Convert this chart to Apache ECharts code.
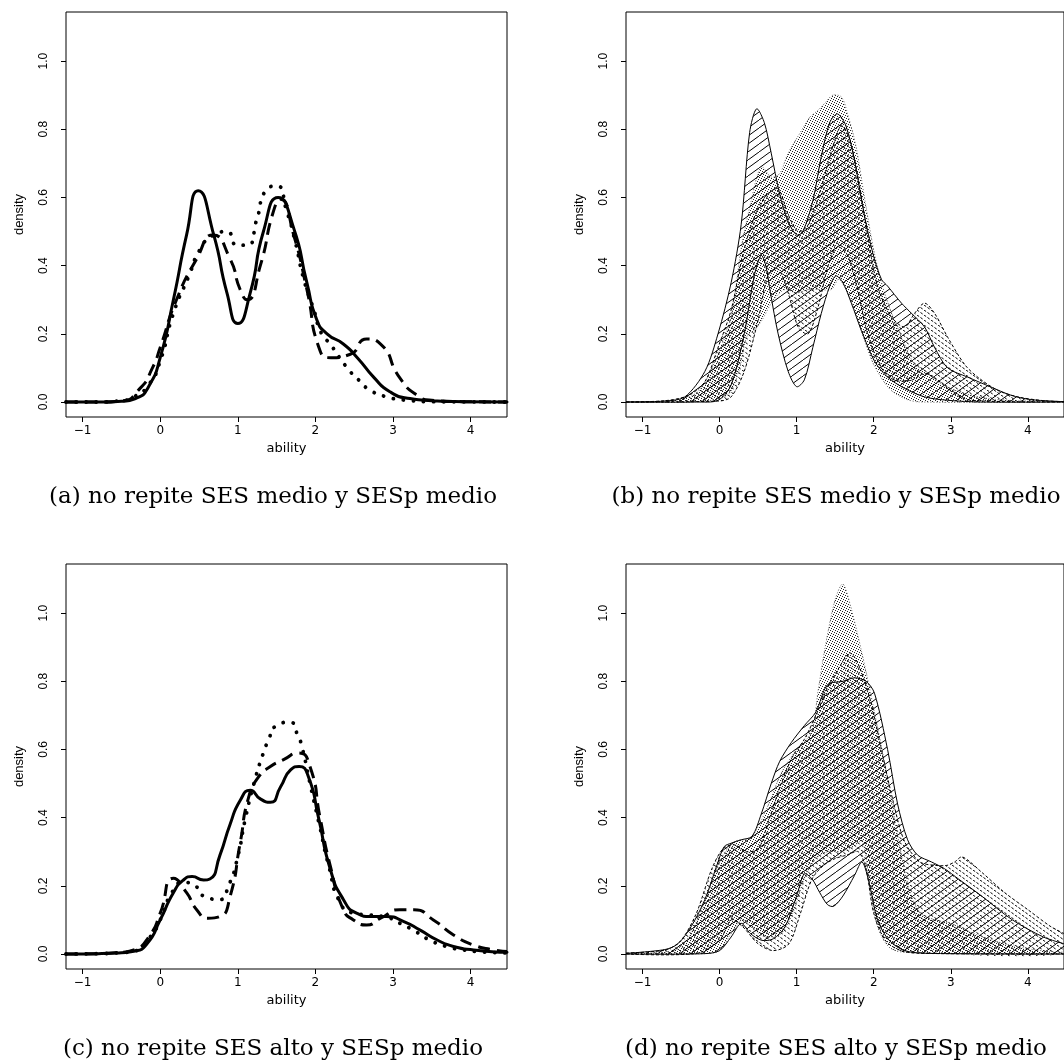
<!DOCTYPE html>
<html><head><meta charset="utf-8">
<script src="https://cdn.jsdelivr.net/npm/echarts@6/dist/echarts.min.js"></script>
<style>html,body{margin:0;padding:0;background:#fff}#c{width:1064px;height:1062px}</style>
</head><body><div id="c"></div>
<script>
// ---------- data ----------
const xTicks = [-1, 0, 1, 2, 3, 4];
const yTicks = [0, 0.2, 0.4, 0.6, 0.8, 1.0];
const xName = 'ability';
const yName = 'density';
const captions = [
  '(a) no repite SES medio y SESp medio',
  '(b) no repite SES medio y SESp medio',
  '(c) no repite SES alto y SESp medio',
  '(d) no repite SES alto y SESp medio'
];

// panel (a): three density curves
const aSolid = [[-1.214,0],[-0.8,0],[-0.5,0.002],[-0.3,0.012],[-0.15,0.045],[0,0.13],[0.17,0.30],[0.34,0.49],[0.49,0.62],[0.69,0.49],[0.86,0.32],[1.0,0.23],[1.16,0.32],[1.33,0.50],[1.52,0.60],[1.72,0.51],[1.89,0.35],[2.02,0.24],[2.15,0.20],[2.36,0.17],[2.54,0.13],[2.75,0.073],[2.96,0.03],[3.22,0.01],[3.5,0.004],[3.9,0.001],[4.469,0]];
const aDashed = [[-1.214,0],[-0.8,0],[-0.5,0.003],[-0.26,0.04],[-0.1,0.1],[0,0.16],[0.21,0.30],[0.47,0.42],[0.68,0.49],[0.9,0.42],[1.03,0.33],[1.12,0.30],[1.29,0.40],[1.46,0.56],[1.55,0.595],[1.72,0.49],[1.89,0.33],[2.06,0.15],[2.2,0.13],[2.45,0.14],[2.66,0.185],[2.84,0.17],[3.09,0.07],[3.31,0.02],[3.5,0.005],[3.9,0.001],[4.469,0]];
const aDotted = [[-1.214,0],[-0.8,0],[-0.5,0.004],[-0.34,0.015],[-0.15,0.05],[0,0.12],[0.17,0.26],[0.37,0.37],[0.52,0.45],[0.69,0.49],[0.86,0.50],[0.99,0.46],[1.12,0.46],[1.25,0.54],[1.36,0.62],[1.5,0.634],[1.63,0.56],[1.74,0.47],[1.85,0.36],[1.98,0.27],[2.08,0.20],[2.19,0.17],[2.41,0.10],[2.56,0.064],[2.71,0.034],[2.92,0.015],[3.18,0.005],[3.5,0.001],[4.469,0]];

// panel (c): three density curves
const cSolid = [[-1.214,0],[-0.8,0.001],[-0.5,0.004],[-0.34,0.008],[-0.17,0.03],[0,0.10],[0.17,0.18],[0.30,0.217],[0.41,0.227],[0.56,0.217],[0.64,0.22],[0.77,0.29],[0.9,0.38],[1.03,0.45],[1.16,0.48],[1.29,0.455],[1.42,0.445],[1.55,0.49],[1.68,0.54],[1.79,0.55],[1.91,0.52],[2.04,0.40],[2.19,0.25],[2.36,0.16],[2.53,0.12],[2.71,0.11],[2.92,0.11],[3.14,0.095],[3.35,0.07],[3.57,0.041],[3.78,0.022],[4.04,0.012],[4.469,0.005]];
const cDashed = [[-1.214,0],[-0.8,0.001],[-0.5,0.005],[-0.34,0.012],[-0.13,0.056],[0,0.12],[0.17,0.222],[0.34,0.18],[0.47,0.13],[0.62,0.105],[0.77,0.11],[0.9,0.168],[1.03,0.325],[1.14,0.46],[1.27,0.52],[1.42,0.55],[1.59,0.57],[1.78,0.59],[1.93,0.55],[2.06,0.40],[2.19,0.26],[2.36,0.13],[2.49,0.10],[2.66,0.085],[2.84,0.105],[3.09,0.13],[3.27,0.13],[3.52,0.10],[3.78,0.056],[4.04,0.026],[4.3,0.012],[4.469,0.007]];
const cDotted = [[-1.214,0],[-0.8,0.001],[-0.5,0.004],[-0.34,0.008],[-0.13,0.05],[0,0.10],[0.15,0.18],[0.3,0.21],[0.45,0.20],[0.56,0.17],[0.77,0.16],[0.88,0.2],[0.99,0.276],[1.1,0.40],[1.22,0.51],[1.33,0.59],[1.4,0.63],[1.48,0.667],[1.67,0.68],[1.77,0.643],[1.83,0.604],[1.95,0.48],[2.06,0.37],[2.17,0.26],[2.32,0.15],[2.49,0.12],[2.66,0.115],[2.88,0.11],[3.09,0.09],[3.29,0.066],[3.48,0.04],[3.69,0.022],[3.91,0.012],[4.17,0.006],[4.469,0.003]];

// panel (b): three bands (upper / lower)
const bA_up = [[-1.214,0],[-0.7,0.003],[-0.45,0.015],[-0.19,0.09],[-0.02,0.2],[0.15,0.35],[0.28,0.52],[0.39,0.79],[0.48,0.86],[0.58,0.82],[0.67,0.73],[0.78,0.61],[0.89,0.53],[1.0,0.49],[1.08,0.5],[1.21,0.59],[1.32,0.72],[1.43,0.82],[1.53,0.845],[1.64,0.81],[1.75,0.71],[1.86,0.57],[1.99,0.435],[2.1,0.36],[2.18,0.34],[2.36,0.29],[2.49,0.26],[2.66,0.22],[2.79,0.16],[2.96,0.10],[3.22,0.073],[3.52,0.044],[3.78,0.02],[4.04,0.007],[4.469,0.001]];
const bA_lo = [[-1.214,0],[-0.3,0],[-0.02,0.005],[0.15,0.05],[0.32,0.20],[0.45,0.37],[0.54,0.43],[0.6,0.40],[0.66,0.32],[0.76,0.2],[0.89,0.09],[1.0,0.045],[1.1,0.065],[1.21,0.16],[1.32,0.26],[1.43,0.34],[1.51,0.37],[1.6,0.35],[1.71,0.29],[1.84,0.21],[2.01,0.12],[2.18,0.073],[2.4,0.04],[2.66,0.015],[2.96,0.005],[3.4,0],[4.469,0]];
const bB_up = [[-1.214,0],[-0.7,0.004],[-0.4,0.02],[-0.19,0.06],[-0.02,0.16],[0.15,0.27],[0.32,0.45],[0.5,0.57],[0.63,0.61],[0.76,0.626],[0.89,0.55],[1.02,0.50],[1.15,0.52],[1.32,0.63],[1.47,0.75],[1.58,0.81],[1.69,0.77],[1.82,0.63],[1.92,0.49],[2.05,0.34],[2.23,0.25],[2.4,0.22],[2.53,0.26],[2.66,0.29],[2.79,0.26],[2.96,0.19],[3.18,0.11],[3.35,0.073],[3.61,0.034],[3.87,0.015],[4.2,0.004],[4.469,0.001]];
const bB_lo = [[-1.214,0],[0,0.003],[0.15,0.015],[0.32,0.09],[0.5,0.24],[0.63,0.37],[0.76,0.39],[0.89,0.32],[1.02,0.22],[1.15,0.2],[1.28,0.28],[1.41,0.40],[1.53,0.455],[1.66,0.43],[1.79,0.33],[1.92,0.2],[2.1,0.10],[2.27,0.064],[2.49,0.064],[2.66,0.083],[2.83,0.064],[3.05,0.024],[3.26,0.005],[4.469,0]];
const bC_up = [[-1.214,0],[-0.6,0.005],[-0.28,0.03],[-0.02,0.14],[0.15,0.25],[0.28,0.45],[0.41,0.59],[0.54,0.69],[0.67,0.66],[0.78,0.67],[0.89,0.73],[1.02,0.78],[1.17,0.835],[1.28,0.856],[1.36,0.875],[1.47,0.90],[1.58,0.895],[1.66,0.846],[1.77,0.75],[1.88,0.60],[2.01,0.435],[2.14,0.32],[2.27,0.24],[2.4,0.17],[2.53,0.11],[2.66,0.093],[2.87,0.054],[3.18,0.025],[3.61,0.007],[4.469,0]];
const bC_lo = [[-1.214,0],[-0.3,0.001],[0.1,0.02],[0.25,0.09],[0.35,0.19],[0.45,0.21],[0.55,0.24],[0.7,0.3],[0.85,0.33],[1.0,0.32],[1.15,0.33],[1.3,0.33],[1.45,0.33],[1.55,0.36],[1.7,0.3],[1.85,0.2],[2.0,0.11],[2.2,0.04],[2.4,0.01],[2.6,0],[4.469,0]];

// panel (d): three bands (upper / lower)
const dA_up = [[-1.214,0.002],[-0.71,0.013],[-0.54,0.03],[-0.37,0.08],[-0.19,0.16],[-0.02,0.27],[0.06,0.315],[0.15,0.325],[0.28,0.335],[0.42,0.345],[0.54,0.41],[0.67,0.50],[0.78,0.565],[0.93,0.62],[1.1,0.67],[1.25,0.71],[1.4,0.79],[1.6,0.80],[1.75,0.81],[1.9,0.80],[2.01,0.765],[2.18,0.6],[2.31,0.44],[2.44,0.335],[2.57,0.29],[2.75,0.27],[2.92,0.25],[3.1,0.22],[3.4,0.17],[3.8,0.10],[4.2,0.05],[4.469,0.03]];
const dA_lo = [[-1.214,0],[-0.2,0.001],[0,0.01],[0.15,0.05],[0.28,0.09],[0.4,0.06],[0.55,0.04],[0.7,0.045],[0.85,0.08],[1.0,0.17],[1.1,0.235],[1.2,0.22],[1.3,0.18],[1.4,0.145],[1.48,0.14],[1.6,0.17],[1.75,0.23],[1.85,0.27],[1.95,0.2],[2.05,0.1],[2.2,0.04],[2.4,0.01],[2.7,0.002],[4.469,0]];
const dB_up = [[-1.214,0.003],[-0.7,0.012],[-0.5,0.04],[-0.3,0.12],[-0.1,0.25],[0.05,0.31],[0.2,0.32],[0.35,0.3],[0.5,0.31],[0.65,0.4],[0.8,0.5],[0.95,0.58],[1.1,0.63],[1.25,0.70],[1.4,0.78],[1.55,0.84],[1.69,0.883],[1.8,0.85],[1.95,0.75],[2.1,0.6],[2.25,0.45],[2.4,0.33],[2.6,0.27],[2.8,0.26],[2.95,0.26],[3.05,0.27],[3.15,0.285],[3.4,0.24],[3.7,0.18],[4.0,0.13],[4.3,0.08],[4.469,0.06]];
const dB_lo = [[-1.214,0],[-0.3,0.002],[0,0.04],[0.15,0.1],[0.3,0.08],[0.5,0.03],[0.7,0.01],[0.9,0.03],[1.05,0.12],[1.2,0.22],[1.35,0.26],[1.5,0.28],[1.65,0.29],[1.8,0.3],[1.9,0.25],[2.0,0.12],[2.15,0.04],[2.35,0.01],[2.6,0.002],[4.469,0]];
const dC_up = [[-1.214,0.001],[-0.6,0.01],[-0.4,0.05],[-0.2,0.15],[0,0.27],[0.2,0.33],[0.4,0.34],[0.6,0.42],[0.8,0.53],[1.0,0.6],[1.19,0.65],[1.28,0.775],[1.37,0.9],[1.5,1.04],[1.6,1.085],[1.7,1.02],[1.85,0.88],[2.0,0.72],[2.15,0.55],[2.3,0.36],[2.45,0.2],[2.6,0.12],[2.8,0.1],[3.0,0.09],[3.3,0.06],[3.7,0.03],[4.1,0.012],[4.469,0.005]];
const dC_lo = [[-1.214,0],[-0.2,0.001],[0,0.01],[0.15,0.06],[0.3,0.1],[0.45,0.07],[0.6,0.05],[0.8,0.06],[0.95,0.12],[1.1,0.22],[1.25,0.28],[1.4,0.3],[1.55,0.3],[1.7,0.31],[1.85,0.33],[1.95,0.2],[2.05,0.08],[2.2,0.02],[2.4,0.005],[4.469,0]];

// ---------- patterns ----------
function makeHatch(w, h, down, dash, color, lw) {
  const c = document.createElement('canvas'); c.width = w; c.height = h;
  const g = c.getContext('2d'); g.strokeStyle = color; g.lineWidth = lw;
  if (dash) g.setLineDash(dash);
  for (const dx of [-w, 0, w]) {
    g.beginPath();
    if (down) { g.moveTo(dx, 0); g.lineTo(dx + w, h); }
    else { g.moveTo(dx, h); g.lineTo(dx + w, 0); }
    g.stroke();
  }
  return c;
}
function makeDots(w, h, pts, color) {
  const c = document.createElement('canvas'); c.width = w; c.height = h;
  const g = c.getContext('2d'); g.fillStyle = color;
  pts.forEach(p => g.fillRect(p[0], p[1], 1, 1));
  return c;
}
const patA = { image: makeHatch(11, 8, false, null, '#000', 1.0), repeat: 'repeat' };
const patB = { image: makeHatch(7, 5, true, [2.6, 1.7], '#000', 1.0), repeat: 'repeat' };
const patC = { image: makeDots(5, 5, [[0, 0], [2, 1], [4, 2], [1, 3], [3, 4]], '#222'), repeat: 'repeat' };

// ---------- layout ----------
const XFONT = 'DejaVu Sans, sans-serif';
const YFONT = 'Liberation Sans, Arial, sans-serif';
const grids = [
  { left: 66, top: 12, width: 441, height: 405 },
  { left: 626, top: 12, width: 441, height: 405 },
  { left: 66, top: 564, width: 441, height: 405 },
  { left: 626, top: 564, width: 441, height: 405 }
].map(g => Object.assign({ show: true, borderColor: '#000', borderWidth: 1, backgroundColor: 'transparent', containLabel: false }, g));

const xAxes = grids.map((g, i) => ({
  type: 'value', gridIndex: i, min: -1.214, max: 4.469,
  name: xName, nameLocation: 'middle', nameGap: 25,
  nameTextStyle: { color: '#000', fontFamily: XFONT, fontSize: 13 },
  axisLine: { show: false, onZero: false },
  axisTick: { show: true, inside: false, length: 5, lineStyle: { color: '#000', width: 1 }, customValues: xTicks },
  axisLabel: { customValues: xTicks, margin: 8, color: '#000', fontFamily: XFONT, fontSize: 12,
    formatter: v => v < 0 ? '\u2212' + Math.abs(v) : String(v) },
  splitLine: { show: false }
}));
const yAxes = grids.map((g, i) => ({
  type: 'value', gridIndex: i, min: -0.044, max: 1.144,
  name: yName, nameLocation: 'middle', nameGap: 40,
  nameTextStyle: { color: '#000', fontFamily: YFONT, fontSize: 13 },
  axisLine: { show: false, onZero: false },
  axisTick: { show: true, inside: false, length: 5, lineStyle: { color: '#000', width: 1 }, customValues: yTicks },
  axisLabel: { customValues: yTicks, margin: 16, rotate: 90, color: '#000', fontFamily: YFONT, fontSize: 12,
    formatter: v => v.toFixed(1) },
  splitLine: { show: false }
}));

function curve(i, data, type) {
  const ls = { color: '#000', width: 3, cap: 'round', join: 'round' };
  if (type === 'dashed') { ls.type = [12, 7]; ls.cap = 'butt'; }
  else if (type === 'dotted') { ls.type = [0.1, 10]; ls.width = 3.8; }
  else ls.type = 'solid';
  return { type: 'line', xAxisIndex: i, yAxisIndex: i, data: data, smooth: 0.6,
    showSymbol: false, symbol: 'none', lineStyle: ls, silent: true, animation: false, clip: true };
}
function band(i, up, lo, pat, stroke, dash) {
  return {
    type: 'custom', xAxisIndex: i, yAxisIndex: i, data: [[0, 0]], clip: true, silent: true, animation: false,
    renderItem: (params, api) => {
      const U = up.map(p => api.coord(p));
      const L = lo.map(p => api.coord(p));
      const ls = { stroke: stroke, lineWidth: 1, fill: null, lineDash: dash };
      return { type: 'group', children: [
        { type: 'polygon', shape: { points: U.concat(L.slice().reverse()), smooth: 0.3 }, style: { fill: pat, stroke: null } },
        { type: 'polyline', shape: { points: U, smooth: 0.3 }, style: ls },
        { type: 'polyline', shape: { points: L, smooth: 0.3 }, style: ls }
      ] };
    }
  };
}

const series = [
  curve(0, aSolid, 'solid'), curve(0, aDashed, 'dashed'), curve(0, aDotted, 'dotted'),
  band(1, bC_up, bC_lo, patC, '#666', [1, 2]),
  band(1, bA_up, bA_lo, patA, '#000', null),
  band(1, bB_up, bB_lo, patB, '#000', [3, 2]),
  curve(2, cSolid, 'solid'), curve(2, cDashed, 'dashed'), curve(2, cDotted, 'dotted'),
  band(3, dC_up, dC_lo, patC, '#666', [1, 2]),
  band(3, dA_up, dA_lo, patA, '#000', null),
  band(3, dB_up, dB_lo, patB, '#000', [3, 2])
];

const capPos = [[273, 497], [836, 497], [273, 1049], [836, 1049]];

const chart = echarts.init(document.getElementById('c'), null, { renderer: 'canvas' });
chart.setOption({
  animation: false, backgroundColor: '#fff',
  grid: grids, xAxis: xAxes, yAxis: yAxes, series: series,
  graphic: captions.map((t, i) => ({
    type: 'text', x: capPos[i][0], y: capPos[i][1], silent: true,
    style: { text: t, fill: '#000', font: '23px "DejaVu Serif", serif', align: 'center', verticalAlign: 'middle' }
  }))
});
</script></body></html>
